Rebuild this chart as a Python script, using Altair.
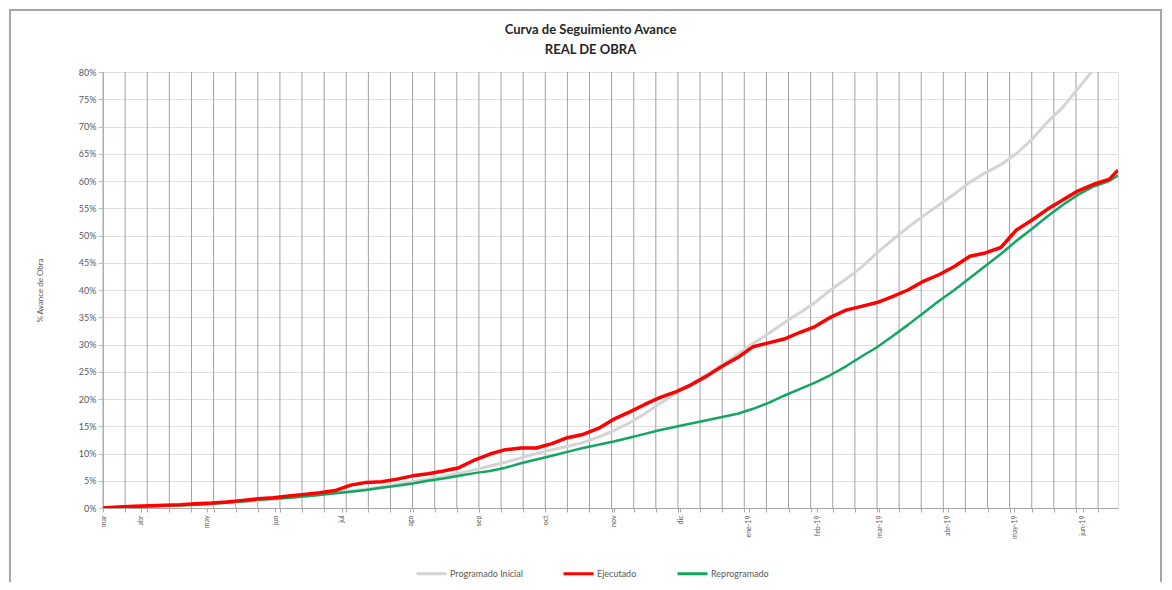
import altair as alt
import pandas as pd

# ---------------- data ----------------
fechas = pd.date_range("2018-03-15", periods=66, freq="7D").strftime("%Y-%m-%d").tolist() + ["2019-06-17"]

programado_inicial = [
    0.0, 0.1, 0.2, 0.3, 0.4, 0.5, 0.6, 0.7, 0.9, 1.1,
    1.3, 1.6, 1.9, 2.2, 2.5, 2.8, 3.1, 3.5, 3.9, 4.3,
    4.8, 5.3, 5.8, 6.4, 7.0, 7.7, 8.4, 9.2, 10.0, 10.7,
    11.3, 12.0, 13.0, 14.2, 15.6, 17.3, 19.2, 21.0, 22.8, 24.5,
    26.3, 28.2, 30.2, 32.0, 34.0, 35.8, 37.7, 40.0, 42.0, 44.2,
    46.8, 49.2, 51.5, 53.6, 55.6, 57.6, 59.8, 61.5, 63.0, 65.0,
    67.6, 70.8, 73.5, 77.0, 80.5, 84.0, 86.0,
]
ejecutado = [
    0.0, 0.2, 0.3, 0.4, 0.5, 0.6, 0.8, 0.9, 1.1, 1.4,
    1.7, 1.9, 2.2, 2.5, 2.8, 3.2, 4.2, 4.7, 4.8, 5.3,
    5.9, 6.3, 6.8, 7.4, 8.8, 9.9, 10.7, 11.0, 11.0, 11.8,
    12.9, 13.5, 14.6, 16.3, 17.6, 19.0, 20.3, 21.3, 22.6, 24.2,
    26.0, 27.6, 29.6, 30.3, 31.0, 32.2, 33.3, 35.0, 36.3, 37.0,
    37.7, 38.8, 40.0, 41.6, 42.8, 44.3, 46.2, 46.8, 47.8, 51.0,
    52.8, 54.8, 56.5, 58.2, 59.4, 60.3, 62.0,
]
reprogramado = [
    0.0, 0.1, 0.2, 0.3, 0.4, 0.5, 0.6, 0.8, 1.0, 1.2,
    1.5, 1.7, 1.9, 2.1, 2.4, 2.7, 3.0, 3.3, 3.7, 4.1,
    4.5, 5.0, 5.4, 5.9, 6.4, 6.8, 7.4, 8.2, 8.9, 9.6,
    10.3, 11.0, 11.6, 12.2, 12.9, 13.6, 14.3, 14.9, 15.5, 16.1,
    16.7, 17.3, 18.2, 19.3, 20.6, 21.8, 23.0, 24.4, 26.0, 27.8,
    29.5, 31.5, 33.6, 35.8, 38.0, 40.0, 42.2, 44.4, 46.6, 49.0,
    51.2, 53.5, 55.6, 57.5, 59.0, 60.0, 61.0,
]

series = ["Programado Inicial", "Ejecutado", "Reprogramado"]
colores = ["#d4d4d4", "#ff0000", "#12a660"]

etiquetas_fechas = [
    "2018-03-15", "2018-04-01", "2018-05-01", "2018-06-01", "2018-07-01", "2018-08-01",
    "2018-09-01", "2018-10-01", "2018-11-01", "2018-12-01", "2019-01-01", "2019-02-01",
    "2019-03-01", "2019-04-01", "2019-05-01", "2019-06-01",
]
etiquetas_texto = [
    "mar", "abr", "may", "jun", "jul", "ago", "sep", "oct", "nov", "dic",
    "ene-19", "feb-19", "mar-19", "abr-19", "may-19", "jun-19",
]
fechas_rejilla = pd.date_range("2018-03-15", periods=46, freq="10D").strftime("%Y-%m-%d").tolist()

valores_y = list(range(0, 85, 5))

# ---------------- helpers ----------------
def ts(s):
    return int(pd.Timestamp(s, tz="UTC").value // 10**6)

ts_etiquetas = [ts(s) for s in etiquetas_fechas]
ts_rejilla = [ts(s) for s in fechas_rejilla]

FONT = "Lato"
GRIS_TXT = "#595959"

label_expr = (
    "[" + ",".join("'" + t + "'" for t in etiquetas_texto) + "]"
    + "[indexof([" + ",".join(str(t) for t in ts_etiquetas) + "], time(datum.value))] || ''"
)

x_scale = alt.Scale(type="utc", domain=[ts("2018-03-15"), ts("2019-06-17")])
x_axis = alt.Axis(
    values=sorted(set(ts_etiquetas + ts_rejilla)),
    labelExpr=label_expr,
    labelAngle=270,
    labelFontSize=7,
    labelColor=GRIS_TXT,
    labelFont=FONT,
    labelPadding=3,
    labelOverlap=False,
    labelBound=False,
    labelFlush=False,
    grid=False,
    tickSize=4,
    tickColor="#a6a6a6",
    domainColor="#a6a6a6",
    title=None,
)

def xenc():
    return alt.X("fecha:T", scale=x_scale, axis=x_axis)

y_scale = alt.Scale(domain=[0, 80], nice=False)
y_axis = alt.Axis(
    values=valores_y,
    labelExpr="datum.value + '%'",
    labelFontSize=9,
    labelColor=GRIS_TXT,
    labelFont=FONT,
    gridColor="#e0e0e0",
    tickSize=5,
    tickColor="#bfbfbf",
    domainColor="#bfbfbf",
    title="% Avance de Obra",
    titleFontSize=8,
    titleFontWeight="normal",
    titleColor=GRIS_TXT,
    titleFont=FONT,
    titlePadding=34,
)

color_scale = alt.Scale(domain=series, range=colores)
legend = alt.Legend(
    orient="none",
    legendX=312,
    legendY=485,
    direction="horizontal",
    title=None,
    labelFontSize=9,
    labelColor=GRIS_TXT,
    labelFont=FONT,
    symbolType="stroke",
    symbolSize=900,
    symbolStrokeWidth=3,
    columnPadding=34,
    labelOffset=2,
)

def serie_df(nombre, valores):
    return pd.DataFrame({"fecha": fechas, "valor": valores, "serie": nombre})

# ---------------- layers ----------------
rejilla = alt.Chart(pd.DataFrame({"fecha": fechas_rejilla})).mark_rule(
    color="#a0a0a0", strokeWidth=1
).encode(x=xenc())

def linea(nombre, valores, ancho):
    return alt.Chart(serie_df(nombre, valores)).mark_line(
        strokeWidth=ancho, clip=True, strokeJoin="round"
    ).encode(
        x=xenc(),
        y=alt.Y("valor:Q", scale=y_scale, axis=y_axis),
        color=alt.Color("serie:N", scale=color_scale, legend=legend),
    )

l_prog = linea("Programado Inicial", programado_inicial, 3)
l_repr = linea("Reprogramado", reprogramado, 2.5)
l_ejec = linea("Ejecutado", ejecutado, 3.5)

marco = alt.Chart(pd.DataFrame({"a": [0]})).mark_rect(
    fill=None, stroke="#a6a6a6", strokeWidth=2
).encode(
    x=alt.value(-93), x2=alt.value(1058), y=alt.value(-62), y2=alt.value(540)
)

chart = alt.layer(rejilla, l_prog, l_repr, l_ejec, marco).properties(
    width=1015,
    height=436,
    padding={"left": 95, "top": 64, "right": 46, "bottom": 74},
    autosize=alt.AutoSizeParams(type="none"),
    title=alt.TitleParams(
        text=["Curva de Seguimiento Avance", "REAL DE OBRA"],
        font=FONT,
        fontSize=13,
        fontWeight="bold",
        color="#262626",
        anchor="middle",
        dx=-20,
        offset=-48,
        lineHeight=20,
    ),
).configure_view(stroke=None).configure(background="white")

chart.save("out.html", embed_options={"renderer": "svg", "actions": False})
